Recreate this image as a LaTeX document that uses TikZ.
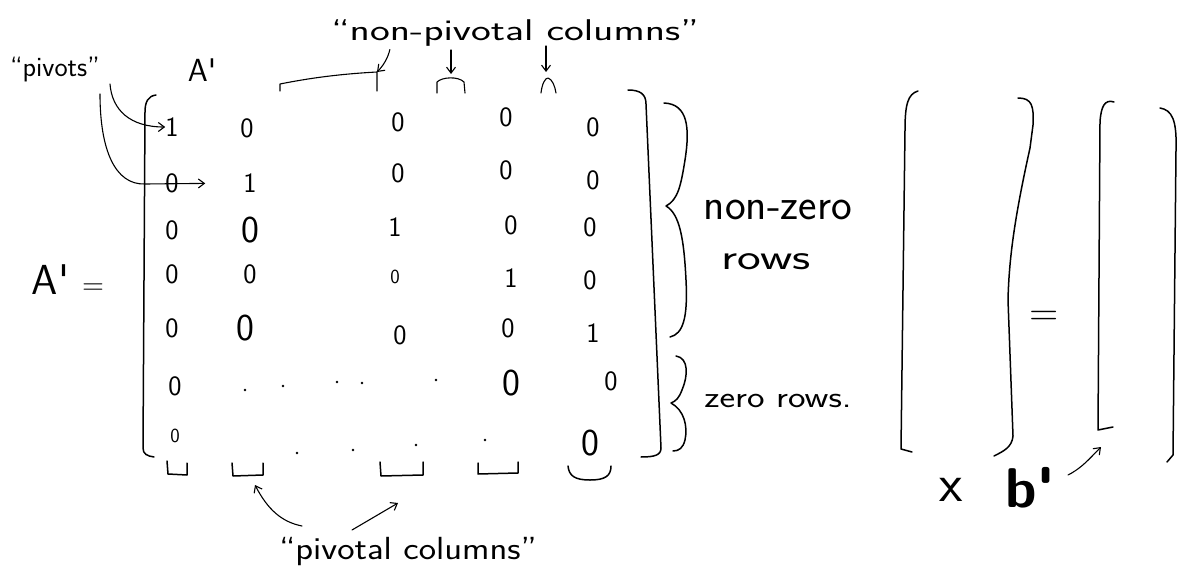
\documentclass[tikz,border=0pt]{standalone}
\usepackage{fontspec}
\usepackage{graphicx}
\usetikzlibrary{arrows.meta}
\newcommand\hstretch[2]{\scalebox{#1}[1]{#2}}
\begin{document}
\begin{tikzpicture}[x=1pt,y=-1pt,
  ink/.style={line width=1.5pt,line cap=round,line join=round},
  thin ink/.style={line width=1.1pt,line cap=round,line join=round},
  arr/.style={thin ink,-{Straight Barb[length=6pt,width=9pt,line width=1.1pt]}},
  entry/.style={inner sep=0pt,font=\sffamily\fontsize{28}{28}\selectfont},
  bigentry/.style={inner sep=0pt,font=\sffamily\fontsize{38}{38}\selectfont},
  smallentry/.style={inner sep=0pt,font=\sffamily\fontsize{20}{20}\selectfont},
  hand/.style={inner sep=1pt,font=\sffamily\fontsize{30}{30}\selectfont},
  dotmark/.style={circle,fill=black,inner sep=0pt,minimum size=2.6pt}]
\useasboundingbox[fill=white] (0,0) rectangle (1178,586);

% ---------- labels ----------
\node[hand,font=\sffamily\fontsize{28}{28}\selectfont] (piv) at (55,70) {``pivots''};
\node[inner sep=0pt,font=\sffamily\fontsize{32}{32}\selectfont] (Atop) at (202,70) {A\textquotesingle};
\node[inner sep=0pt,font=\sffamily\fontsize{42}{42}\selectfont] (lhs) at (68,280) {A\textquotesingle\ {\fontsize{30}{30}\selectfont =}};
\node[hand] (npc) at (515,33) {\hstretch{1.4}{``non-pivotal columns''}};
\node[hand,font=\sffamily\fontsize{32}{32}\selectfont] (pc) at (408,552) {\hstretch{1.15}{``pivotal columns''}};
\node[hand,font=\sffamily\fontsize{44}{44}\selectfont] (nz) at (778,210) {non-zero};
\node[hand,font=\sffamily\fontsize{36}{36}\selectfont] (rw) at (766,262) {\hstretch{1.4}{rows}};
\node[hand] (zr) at (778,401) {\hstretch{1.24}{zero rows.}};
\node[inner sep=0pt,font=\sffamily\fontsize{54}{54}\selectfont] (xv) at (951,490) {x};
\node[inner sep=0pt,font=\sffamily\bfseries\fontsize{56}{56}\selectfont] (bp) at (1030,488) {b\textquotesingle};
\node[inner sep=0pt,font=\sffamily\fontsize{40}{40}\selectfont] (eq) at (1044,318) {=};

% ---------- matrix entries ----------
\node[entry] (m11) at (172,127) {1};
\node[entry] (m12) at (247,128) {0};
\node[entry] (m13) at (398,122) {0};
\node[entry] (m14) at (506,117) {0};
\node[entry] (m15) at (593,127) {0};
\node[entry] (m21) at (172,183) {0};
\node[entry] (m22) at (250,183) {1};
\node[entry] (m23) at (398,173) {0};
\node[entry] (m24) at (506,170) {0};
\node[entry] (m25) at (593,180) {0};
\node[entry] (m31) at (172,230) {0};
\node[bigentry] (m32) at (250,230) {0};
\node[entry] (m33) at (395,227) {1};
\node[entry] (m34) at (511,225) {0};
\node[entry] (m35) at (590,227) {0};
\node[entry] (m41) at (172,274) {0};
\node[entry] (m42) at (250,274) {0};
\node[smallentry] (m43) at (395,277) {0};
\node[entry] (m44) at (511,278) {1};
\node[entry] (m45) at (590,280) {0};
\node[entry] (m51) at (172,328) {0};
\node[bigentry] (m52) at (245,328) {0};
\node[entry] (m53) at (400,335) {0};
\node[entry] (m54) at (508,328) {0};
\node[entry] (m55) at (593,333) {1};
\node[entry] (m61) at (175,386) {0};
\node[bigentry] (m64) at (511,383) {0};
\node[entry] (m65) at (611,381) {0};
\node[smallentry] (m71) at (175,436) {0};
\node[bigentry] (m75) at (590,443) {0};
\foreach \p [count=\i] in {(245,390),(283,386),(337,382),(362,383),(436,380),(297,453),(353,450),(416,445),(485,440)}
  \node[dotmark] (d\i) at \p {};

% ---------- brackets of A' ----------
\draw[ink] (156,95) .. controls (148,96) and (145,102) .. (145,112) -- (143,448) .. controls (143,454) and (147,456) .. (154,457);
\draw[ink] (628,90) .. controls (640,90) and (646,94) .. (646,104) -- (661,448) .. controls (661,455) and (655,457) .. (641,457);

% braces
\draw[ink] (664,103) .. controls (688,104) and (690,128) .. (685,160) .. controls (681,185) and (678,200) .. (666,206)
  .. controls (680,214) and (684,240) .. (686,280) .. controls (688,318) and (683,334) .. (670,337);
\draw[ink] (676,356) .. controls (689,358) and (688,376) .. (682,390) .. controls (679,398) and (676,401) .. (671,403)
  .. controls (684,410) and (688,426) .. (685,440) .. controls (683,448) and (679,451) .. (673,451);

% ---------- x and b' brackets ----------
\draw[ink] (918,91) .. controls (908,94) and (905,104) .. (905,130) -- (901,449) -- (912,452);
\draw[ink] (1018,98) .. controls (1032,98) and (1034,106) .. (1033,125) -- (1030,148) .. controls (1014,220) and (1009,260) .. (1008,300) -- (1013,436) .. controls (1012,447) and (1004,451) .. (994,456);
\draw[ink] (1114,102) .. controls (1105,99) and (1101,106) .. (1100,122) -- (1098,430) -- (1113,427);
\draw[ink] (1160,108) .. controls (1172,110) and (1177,120) .. (1176,150) -- (1173,455) -- (1167,462);
\coordinate (bbot) at (1101,447);

% ---------- column caps (top) ----------
\coordinate (c3top) at (377,72);
\coordinate (c4top) at (451,74);
\coordinate (c5top) at (546,72);
\draw[thin ink] (280,91) -- (280,84) .. controls (310,78) and (340,74) .. (c3top) -- (377,91);
\draw[thin ink] (437,93) -- (437,82) .. controls (442,77) and (458,76) .. (464,82) -- (465,93);
\draw[thin ink] (541,93) .. controls (542,84) and (545,78) .. (548,78) .. controls (552,79) and (555,86) .. (556,93);

% ---------- column cups (bottom) ----------
\coordinate (c2bot) at (255,485);
\coordinate (c3bot) at (398,503);
\draw[ink] (167,461) -- (168,474) -- (187,475) -- (187,463);
\draw[ink] (232,463) -- (233,476) -- (263,475) -- (263,463);
\draw[ink] (380,462) -- (381,476) -- (423,475) -- (423,462);
\draw[ink] (478,463) -- (478,474) -- (518,473) -- (518,462);
\draw[ink] (568,466) .. controls (569,476) and (575,480) .. (590,480) .. controls (605,480) and (611,476) .. (611,466);

% ---------- arrows ----------
\draw[arr] (110,84) .. controls (112,110) and (130,127) .. (m11.west);
\draw[arr,shorten >=38pt] (100,94) .. controls (100,150) and (115,185) .. (145,184) -- (m22.west);
\draw[arr] (npc.south west) ++(60,2) .. controls (388,58) and (383,66) .. (c3top);
\draw[arr] (451,50) -- (c4top);
\draw[arr] (546,46) -- (c5top);
\draw[arr] (302,526) .. controls (282,522) and (268,510) .. (c2bot);
\draw[arr] (352,530) -- (c3bot);
\draw[arr] (1068,475) .. controls (1082,468) and (1090,458) .. (bbot);
\end{tikzpicture}
\end{document}
